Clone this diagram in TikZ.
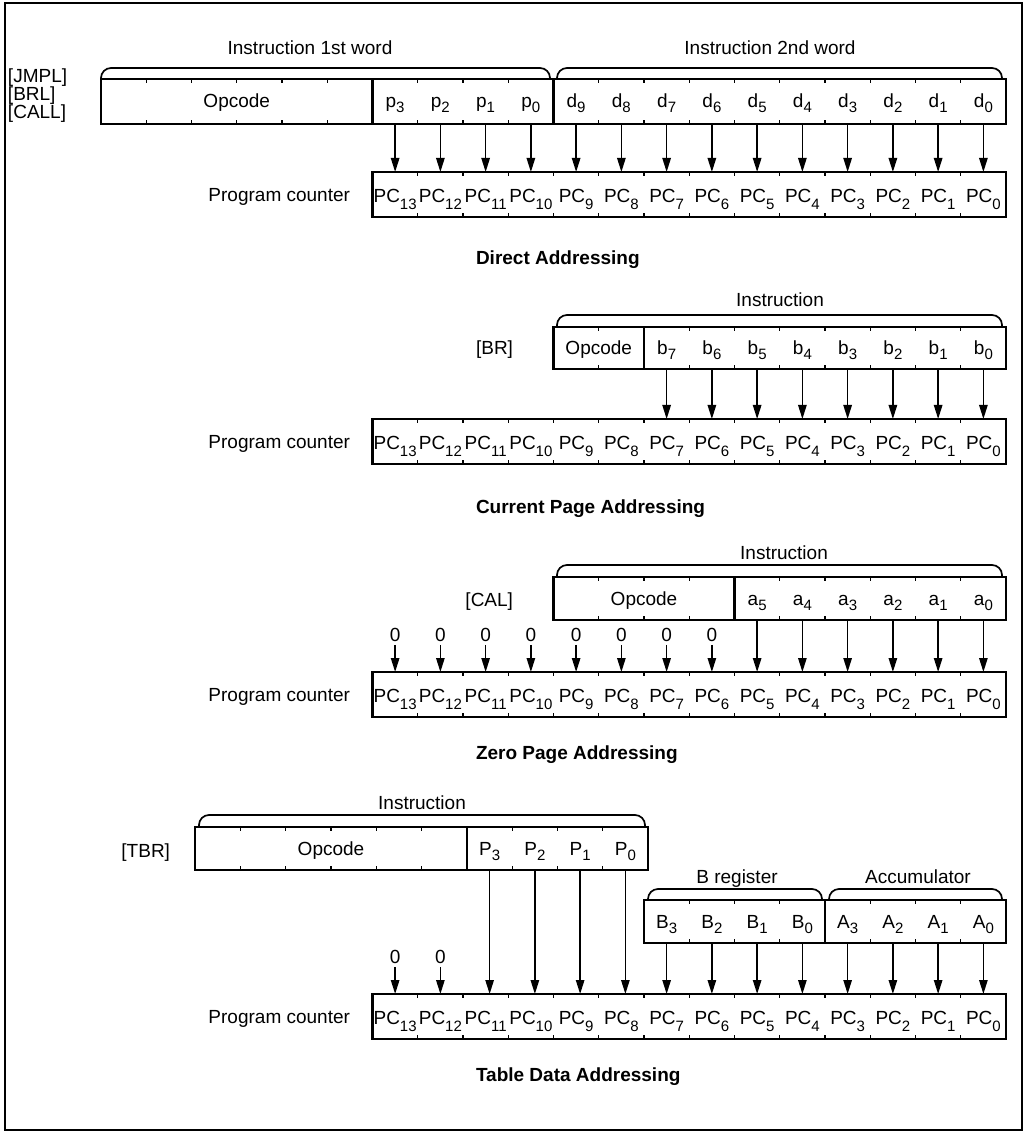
\documentclass[tikz,border=0pt]{standalone}
\usepackage{fontspec}
\setmainfont{Liberation Sans}
\usetikzlibrary{arrows.meta}
\newcommand{\pcs}[1]{\raisebox{-3.5pt}{\fontsize{7.5}{8}\selectfont #1}}
\newcommand{\ins}[1]{\raisebox{-2.5pt}{\fontsize{7.5}{8}\selectfont #1}}
\begin{document}
\begin{tikzpicture}[x=0.5pt,y=-0.5pt,
  every node/.style={font=\fontsize{9.5}{11}\selectfont, inner sep=0pt, outer sep=0pt},
  pccell/.style={minimum width=22.625pt, minimum height=22.5pt, text height=8pt, text depth=0pt},
  icell/.style={minimum width=22.625pt, minimum height=22pt, text height=6.5pt, text depth=0pt},
  lbl/.style={text height=6.8pt, text depth=0pt},
  title/.style={lbl, anchor=west, font=\fontsize{9.5}{11}\selectfont\bfseries},
  box/.style={line width=1.1pt},
  tick/.style={line width=0.6pt},
  arr/.style={line width=0.75pt, -{Triangle[length=7pt,width=4.2pt]}},
  brace/.style={line width=0.85pt, rounded corners=5pt}
]
\useasboundingbox (0,0) rectangle (1027,1133);
\draw[line width=1.3pt] (5,3) rectangle (1022,1130);

% ================= Section 1: Direct addressing =================
\node[lbl, anchor=west] (jmpl) at (8,76) {[JMPL]};
\node[lbl, anchor=west] (brl) at (8,94) {[BRL]};
\node[lbl, anchor=west] (call) at (8,112) {[CALL]};
\node[lbl] (w1) at (310,48) {Instruction 1st word};
\node[lbl] (w2) at (770,48) {Instruction 2nd word};
\draw[brace] (101,79) -- (101,68) -- (550,68) -- (550,79);
\draw[brace] (557,79) -- (557,68) -- (1002,68) -- (1002,79);

\node[icell, minimum width=135.75pt, minimum height=22.5pt] (s1op) at (236.75,101.5) {Opcode};
\foreach \i in {10,...,13} {\pgfmathtruncatemacro\k{\i-10}
  \node[icell, minimum height=22.5pt] (s1i\i) at ({1006-(\i+0.5)*45.25},101.5) {p\ins{\k}};}
\foreach \i in {0,...,9}
  \node[icell, minimum height=22.5pt] (s1i\i) at ({1006-(\i+0.5)*45.25},101.5) {d\ins{\i}};
\draw[box] (s1op.north west) rectangle (s1i0.south east);
\draw[box] (s1i13.north west) -- (s1i13.south west);
\draw[box] (s1i9.north west) -- (s1i9.south west);
\foreach \i in {0,...,8,10,11,12}
  \draw[tick] (s1i\i.north west) -- ++(0,4) (s1i\i.south west) -- ++(0,-4);
\foreach \k in {1,...,5}
  \draw[tick] ([xshift=\k*22.625pt]s1op.north west) -- ++(0,4) ([xshift=\k*22.625pt]s1op.south west) -- ++(0,-4);

\node[lbl, anchor=east] (pcl1) at (350,194.5) {Program counter};
\foreach \i in {0,...,13}
  \node[pccell] (s1pc\i) at ({1006-(\i+0.5)*45.25},194.5) {PC\pcs{\i}};
\draw[box] (s1pc13.north west) rectangle (s1pc0.south east);
\foreach \i in {0,...,12}
  \draw[tick] (s1pc\i.north west) -- ++(0,4) (s1pc\i.south west) -- ++(0,-4);
\foreach \i in {0,...,13}
  \draw[arr] (s1i\i.south) -- (s1pc\i.north);
\node[title] (t1) at (476,258) {Direct Addressing};

% ================= Section 2: Current page addressing =================
\node[lbl] (ins2) at (780,300) {Instruction};
\draw[brace] (557,327) -- (557,315) -- (1002,315) -- (1002,327);
\node[lbl, anchor=east] (br) at (513,348) {[BR]};
\node[icell, minimum width=45.25pt, minimum height=21pt] (s2op) at (598.75,348) {Opcode};
\foreach \i in {0,...,7}
  \node[icell, minimum height=21pt] (s2i\i) at ({1006-(\i+0.5)*45.25},348) {b\ins{\i}};
\draw[box] (s2op.north west) rectangle (s2i0.south east);
\draw[box] (s2i7.north west) -- (s2i7.south west);
\foreach \i in {0,...,6}
  \draw[tick] (s2i\i.north west) -- ++(0,4) (s2i\i.south west) -- ++(0,-4);
\draw[tick] ([xshift=22.625pt]s2op.north west) -- ++(0,4) ([xshift=22.625pt]s2op.south west) -- ++(0,-4);

\node[lbl, anchor=east] (pcl2) at (350,441.5) {Program counter};
\foreach \i in {0,...,13}
  \node[pccell] (s2pc\i) at ({1006-(\i+0.5)*45.25},441.5) {PC\pcs{\i}};
\draw[box] (s2pc13.north west) rectangle (s2pc0.south east);
\foreach \i in {0,...,12}
  \draw[tick] (s2pc\i.north west) -- ++(0,4) (s2pc\i.south west) -- ++(0,-4);
\foreach \i in {0,...,7}
  \draw[arr] (s2i\i.south) -- (s2pc\i.north);
\node[title] (t2) at (476,507) {Current Page Addressing};

% ================= Section 3: Zero page addressing =================
\node[lbl] (ins3) at (784,553) {Instruction};
\draw[brace] (557,577) -- (557,565) -- (1002,565) -- (1002,577);
\node[lbl, anchor=east] (cal) at (513,600) {[CAL]};
\node[icell, minimum width=90.5pt, minimum height=21.5pt] (s3op) at (644,598.5) {Opcode};
\foreach \i in {0,...,5}
  \node[icell, minimum height=21.5pt] (s3i\i) at ({1006-(\i+0.5)*45.25},598.5) {a\ins{\i}};
\draw[box] (s3op.north west) rectangle (s3i0.south east);
\draw[box] (s3i5.north west) -- (s3i5.south west);
\foreach \i in {0,...,4}
  \draw[tick] (s3i\i.north west) -- ++(0,4) (s3i\i.south west) -- ++(0,-4);
\foreach \k in {1,2,3}
  \draw[tick] ([xshift=\k*22.625pt]s3op.north west) -- ++(0,4) ([xshift=\k*22.625pt]s3op.south west) -- ++(0,-4);

\node[lbl, anchor=east] (pcl3) at (350,694.5) {Program counter};
\foreach \i in {0,...,13}
  \node[pccell] (s3pc\i) at ({1006-(\i+0.5)*45.25},694.5) {PC\pcs{\i}};
\draw[box] (s3pc13.north west) rectangle (s3pc0.south east);
\foreach \i in {0,...,12}
  \draw[tick] (s3pc\i.north west) -- ++(0,4) (s3pc\i.south west) -- ++(0,-4);
\foreach \i in {6,...,13} {
  \node[lbl] (s3z\i) at ({1006-(\i+0.5)*45.25},635) {0};
  \draw[arr, shorten <=1.5pt] (s3z\i.south) -- (s3pc\i.north);}
\foreach \i in {0,...,5}
  \draw[arr] (s3i\i.south) -- (s3pc\i.north);
\node[title] (t3) at (476,753) {Zero Page Addressing};

% ================= Section 4: Table data addressing =================
\node[lbl] (ins4) at (422,803) {Instruction};
\draw[brace] (199,827) -- (199,815) -- (645,815) -- (645,827);
\node[lbl, anchor=east] (tbr) at (170,851) {[TBR]};
\node[icell, minimum width=135.75pt, minimum height=21.5pt] (s4op) at (331,848.5) {Opcode};
\foreach \i in {8,...,11} {\pgfmathtruncatemacro\k{\i-8}
  \node[icell, minimum height=21.5pt] (s4i\i) at ({1010-(\i+0.5)*45.25},848.5) {P\ins{\k}};}
\draw[box] (s4op.north west) rectangle (s4i8.south east);
\draw[box] (s4i11.north west) -- (s4i11.south west);
\foreach \i in {8,9,10}
  \draw[tick] (s4i\i.north west) -- ++(0,4) (s4i\i.south west) -- ++(0,-4);
\foreach \k in {1,...,5}
  \draw[tick] ([xshift=\k*22.625pt]s4op.north west) -- ++(0,4) ([xshift=\k*22.625pt]s4op.south west) -- ++(0,-4);

\node[lbl] (breg) at (737,877) {B register};
\node[lbl] (acc) at (918,877) {Accumulator};
\draw[brace] (648,900) -- (648,889) -- (822,889) -- (822,900);
\draw[brace] (829,900) -- (829,889) -- (1002,889) -- (1002,900);
\foreach \i in {4,...,7} {\pgfmathtruncatemacro\k{\i-4}
  \node[icell, minimum height=21.5pt] (s4b\i) at ({1006-(\i+0.5)*45.25},921.5) {B\ins{\k}};}
\foreach \i in {0,...,3}
  \node[icell, minimum height=21.5pt] (s4b\i) at ({1006-(\i+0.5)*45.25},921.5) {A\ins{\i}};
\draw[box] (s4b7.north west) rectangle (s4b0.south east);
\draw[box] (s4b3.north west) -- (s4b3.south west);
\foreach \i in {0,1,2,4,5,6}
  \draw[tick] (s4b\i.north west) -- ++(0,4) (s4b\i.south west) -- ++(0,-4);

\node[lbl, anchor=east] (pcl4) at (350,1016.5) {Program counter};
\foreach \i in {0,...,13}
  \node[pccell] (s4pc\i) at ({1006-(\i+0.5)*45.25},1016.5) {PC\pcs{\i}};
\draw[box] (s4pc13.north west) rectangle (s4pc0.south east);
\foreach \i in {0,...,12}
  \draw[tick] (s4pc\i.north west) -- ++(0,4) (s4pc\i.south west) -- ++(0,-4);
\foreach \i in {12,13} {
  \node[lbl] (s4z\i) at ({1006-(\i+0.5)*45.25},957) {0};
  \draw[arr, shorten <=1.5pt] (s4z\i.south) -- (s4pc\i.north);}
\foreach \i in {8,...,11}
  \draw[arr] (s4i\i.south) -- (s4i\i.south |- s4pc\i.north);
\foreach \i in {0,...,7}
  \draw[arr] (s4b\i.south) -- (s4pc\i.north);
\node[title] (t4) at (476,1075) {Table Data Addressing};
\end{tikzpicture}
\end{document}
